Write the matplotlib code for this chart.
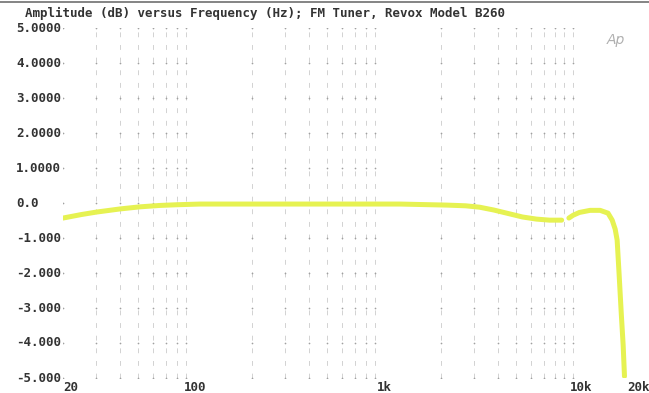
import numpy as np
import matplotlib
matplotlib.use("Agg")
import matplotlib.pyplot as plt

# Frequency response, FM tuner (Revox B260)
freq_lo = [20, 25, 30, 40, 51, 65, 80, 106, 250, 518, 1210, 2150, 2700, 3200, 3800, 4300,
           5400, 6400, 7500, 8700]
amp_lo = [-0.43, -0.33, -0.26, -0.17, -0.11, -0.07, -0.05, -0.03, -0.03, -0.03, -0.03,
          -0.06, -0.08, -0.12, -0.20, -0.27, -0.40, -0.46, -0.49, -0.49]
freq_hi = [9500, 10000, 10800, 12300, 13900, 15300, 16100, 16700, 17100, 17500, 18000,
           18400, 18700]
amp_hi = [-0.43, -0.35, -0.27, -0.21, -0.21, -0.29, -0.49, -0.75, -1.06, -2.0, -3.2,
          -4.06, -4.95]

y_ticks = [5, 4, 3, 2, 1, 0, -1, -2, -3, -4, -5]
y_labels = ["5.0000", "4.0000", "3.0000", "2.0000", "1.0000", "0.0",
            "-1.000", "-2.000", "-3.000", "-4.000", "-5.000"]
x_ticks = [20, 100, 1000, 10000, 20000]
x_labels = ["20", "100", "1k", "10k", "20k"]
grid_freqs = [30, 40, 50, 60, 70, 80, 90, 200, 300, 400, 500, 600, 700, 800, 900,
              2000, 3000, 4000, 5000, 6000, 7000, 8000, 9000, 10000]

title = "Amplitude (dB) versus Frequency (Hz); FM Tuner, Revox Model B260"

W, H = 649, 393
fig = plt.figure(figsize=(W / 100, H / 100), dpi=100)
fig.patch.set_facecolor("white")
left, right, top, bottom = 63, 630, 28, 378
ax = fig.add_axes([left / W, 1 - bottom / H, (right - left) / W, (bottom - top) / H])
ax.set_xscale("log")
ax.set_xlim(20, 20000)
ax.set_ylim(-5, 5)
for s in ax.spines.values():
    s.set_visible(False)
ax.set_xticks([])
ax.set_yticks([])
ax.minorticks_off()

# faint broken vertical grid
for f in grid_freqs:
    ax.axvline(f, color="#d2d2d2", lw=0.7, ls=(0, (5, 8)), zorder=1)
# dot marks at grid intersections
gx, gy = np.meshgrid(grid_freqs + [20], y_ticks)
ax.scatter(gx.ravel(), gy.ravel(), s=1.5, color="#a0a0a0", zorder=1, linewidths=0)

line_kw = dict(color="#e6f252", lw=3.6, solid_capstyle="round", solid_joinstyle="round",
               zorder=3)
ax.plot(freq_lo, amp_lo, **line_kw)
ax.plot(freq_hi, amp_hi, **line_kw)

font = dict(family="DejaVu Sans Mono", fontweight="bold", color="#333333")
label_x = (16 - left) / (right - left)
for v, lab in zip(y_ticks, y_labels):
    ax.text(label_x, v, lab, transform=ax.get_yaxis_transform(), ha="left", va="center",
            fontsize=9, **font)
for f, lab in zip(x_ticks, x_labels):
    ha = "left" if f == 20 else "center"
    ax.annotate(lab, (f, -5), xytext=(6 if f >= 10000 else 0, -2), textcoords="offset points",
                ha=ha, va="top", fontsize=9, **font)

fig.text(25 / W, 1 - 13 / H, title, ha="left", va="center", fontsize=9, **font)
fig.text(607 / W, 1 - 40 / H, "Ap", ha="left", va="center", fontsize=10, style="italic",
         color="#b0b0b0", family="DejaVu Sans")
fig.add_artist(plt.Line2D([0, 1], [1 - 2 / H, 1 - 2 / H], color="#707070", lw=1.2))

fig.savefig("out.png", dpi=100, facecolor="white")
